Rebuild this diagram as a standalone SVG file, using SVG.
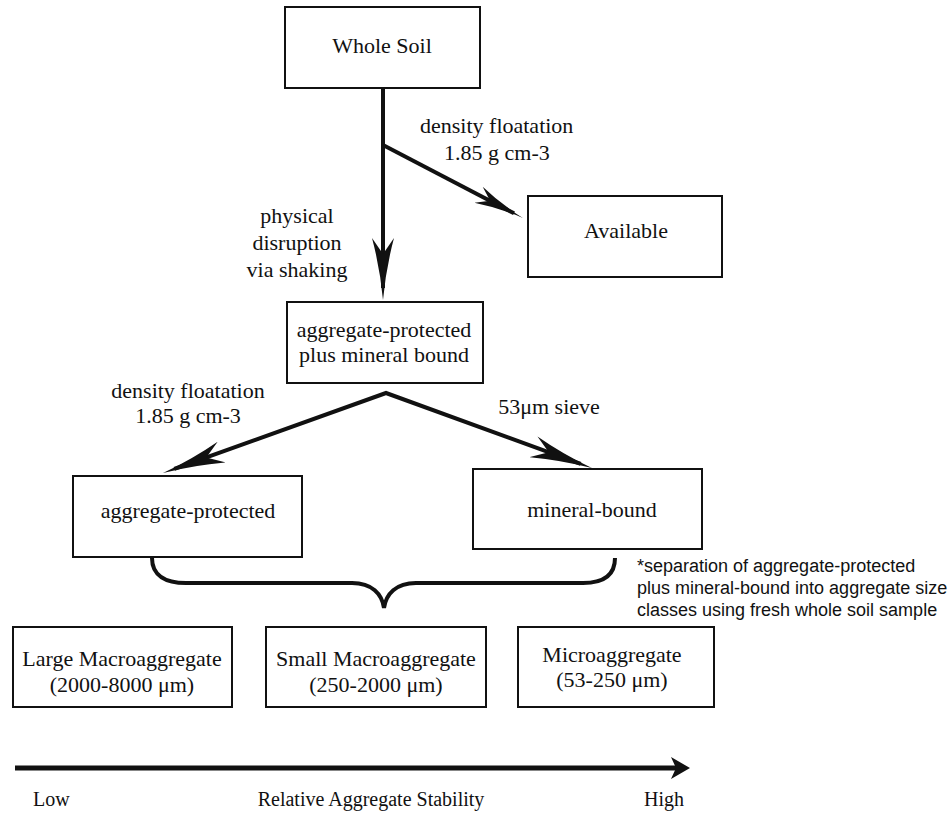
<svg xmlns="http://www.w3.org/2000/svg" width="952" height="817" viewBox="0 0 952 817">
<style>
.box{fill:#fff;stroke:#111;stroke-width:2}
.t{font-family:"Liberation Serif","Times New Roman",serif;font-size:22px;fill:#111;text-anchor:middle}
.lbl{font-family:"Liberation Serif","Times New Roman",serif;font-size:22px;fill:#111}
.note{font-family:"Liberation Sans",Arial,sans-serif;font-size:18px;fill:#111}
.ax{font-family:"Liberation Serif","Times New Roman",serif;font-size:20px;fill:#111}
.conn{fill:none;stroke:#111;stroke-width:4}
</style>
<defs>
<marker id="ah" viewBox="0 0 62 24" markerWidth="62" markerHeight="24" refX="50" refY="12" orient="auto-start-reverse" markerUnits="userSpaceOnUse">
<path d="M62,12 Q30,9 0,1 L16,12 L0,23 Q30,15 62,12 Z" fill="#111"/>
</marker>
<marker id="ahs" viewBox="0 0 50 20" markerWidth="50" markerHeight="20" refX="40" refY="10" orient="auto" markerUnits="userSpaceOnUse">
<path d="M50,10 Q24,8 0,1 L13,10 L0,19 Q24,12 50,10 Z" fill="#111"/>
</marker>
</defs>
<rect width="952" height="817" fill="#fff"/>

<g id="connectors">
<line class="conn" x1="383" y1="88" x2="383" y2="288" marker-end="url(#ah)"/>
<line class="conn" x1="383" y1="145" x2="514" y2="213.3" marker-end="url(#ahs)"/>
<path class="conn" d="M174.3,468.9 L386,393 L580.7,463.9" stroke-linejoin="miter" marker-start="url(#ah)" marker-end="url(#ah)"/>
<path class="conn" d="M152,558 C152,576 166,583 186,583 L352,583 C372,583 382,594 384,608 C386,594 396,583 416,583 L583,583 C603,583 615,576 615,558"/>
<line x1="15" y1="768" x2="678" y2="768" stroke="#111" stroke-width="5"/>
<path d="M690,768 L671,757 L676,768 L671,779 Z" fill="#111"/>
</g>

<g id="whole-soil">
<rect class="box" x="285" y="7" width="195" height="81"/>
<text class="t" x="382" y="53">Whole Soil</text>
</g>

<g id="available">
<rect class="box" x="528" y="196" width="194" height="81"/>
<text class="t" x="626" y="238">Available</text>
</g>

<g id="label-density-1">
<text class="lbl" x="420" y="133">density floatation</text>
<text class="lbl" x="444" y="160">1.85 g cm-3</text>
</g>

<g id="label-physical">
<text class="t" x="297" y="223">physical</text>
<text class="t" x="297" y="250">disruption</text>
<text class="t" x="297" y="277">via shaking</text>
</g>

<g id="agg-plus-mineral">
<rect class="box" x="287" y="302" width="196" height="81"/>
<text class="t" x="384" y="337">aggregate-protected</text>
<text class="t" x="384" y="362">plus mineral bound</text>
</g>

<g id="label-density-2">
<text class="t" x="188" y="398">density floatation</text>
<text class="t" x="188" y="423">1.85 g cm-3</text>
</g>

<g id="label-sieve">
<text class="t" x="549" y="414">53μm sieve</text>
</g>

<g id="aggregate-protected">
<rect class="box" x="73" y="476" width="229" height="81"/>
<text class="t" x="188" y="518">aggregate-protected</text>
</g>

<g id="mineral-bound">
<rect class="box" x="473" y="469" width="229" height="80"/>
<text class="t" x="592" y="517">mineral-bound</text>
</g>

<g id="footnote">
<text class="note" x="637" y="572">*separation of aggregate-protected</text>
<text class="note" x="637" y="594">plus mineral-bound into aggregate size</text>
<text class="note" x="637" y="616">classes using fresh whole soil sample</text>
</g>

<g id="large-macro">
<rect class="box" x="13" y="627" width="219" height="80"/>
<text class="t" x="122" y="666">Large Macroaggregate</text>
<text class="t" x="122" y="692">(2000-8000 μm)</text>
</g>

<g id="small-macro">
<rect class="box" x="266" y="627" width="220" height="80"/>
<text class="t" x="376" y="666">Small Macroaggregate</text>
<text class="t" x="376" y="692">(250-2000 μm)</text>
</g>

<g id="micro">
<rect class="box" x="518" y="627" width="196" height="80"/>
<text class="t" x="612" y="662">Microaggregate</text>
<text class="t" x="612" y="687">(53-250 μm)</text>
</g>

<g id="axis-labels">
<text class="ax" x="33" y="806">Low</text>
<text class="ax" x="371" y="806" text-anchor="middle">Relative Aggregate Stability</text>
<text class="ax" x="684" y="806" text-anchor="end">High</text>
</g>
</svg>
